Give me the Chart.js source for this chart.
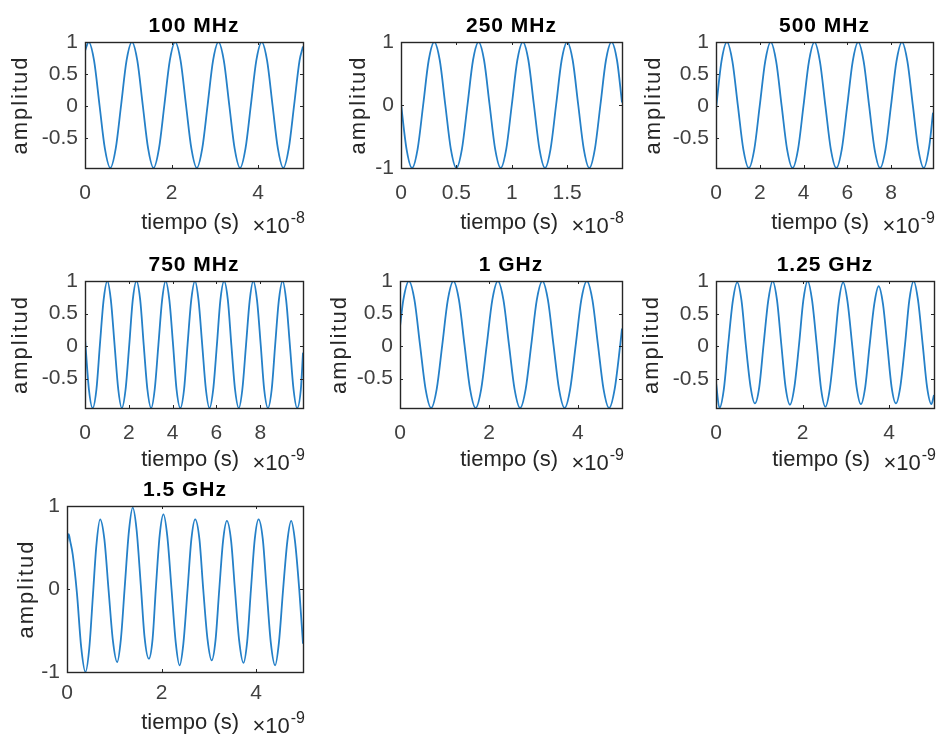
<!DOCTYPE html>
<html>
<head>
<meta charset="utf-8">
<title>Señales muestreadas</title>
<script src="https://cdn.jsdelivr.net/npm/chart.js@4.4.1/dist/chart.umd.min.js"></script>
<style>
  html, body { margin: 0; padding: 0; background: #fff; }
  #fig { position: relative; width: 938px; height: 740px; overflow: hidden; background: #fff; }
  #fig canvas { position: absolute; left: 0; top: 0; }
</style>
</head>
<body>
<div id="fig"></div>
<script>
// ---- Títulos de cada subgráfica ----
const titulos = ['100 MHz', '250 MHz', '500 MHz', '750 MHz', '1 GHz', '1.25 GHz', '1.5 GHz'];

// ---- Marcas de los ejes ----
const xTicks5  = [0, 2, 4];
const xTicks2  = [0, 0.5, 1, 1.5];
const xTicks10 = [0, 2, 4, 6, 8];
const yTicksMedio = [-0.5, 0, 0.5, 1];
const yTicksUno   = [-1, 0, 1];

// ---- 100 MHz (tiempo en unidades de 1e-8 s) ----
const t100 = [0,
  0.085, 0.21, 0.335, 0.46, 0.585, 0.71, 0.835, 0.96,
  1.085, 1.21, 1.335, 1.46, 1.585, 1.71, 1.835, 1.96,
  2.085, 2.21, 2.335, 2.46, 2.585, 2.71, 2.835, 2.96,
  3.085, 3.21, 3.335, 3.46, 3.585, 3.71, 3.835, 3.96,
  4.085, 4.21, 4.335, 4.46, 4.585, 4.71, 4.835, 4.96,
  5.04];
const a100 = [0.86,
  1, 0.71, 0.02, -0.66, -0.96, -0.66, 0.02, 0.71,
  1, 0.71, 0.02, -0.66, -0.96, -0.66, 0.02, 0.71,
  1, 0.71, 0.02, -0.66, -0.96, -0.66, 0.02, 0.71,
  1, 0.71, 0.02, -0.66, -0.96, -0.66, 0.02, 0.71,
  1, 0.71, 0.02, -0.66, -0.96, -0.66, 0.02, 0.71,
  0.93];

// ---- 250 MHz (1e-8 s) ----
const t250 = [
  0, 0.05, 0.1, 0.15, 0.2, 0.25, 0.3, 0.35,
  0.4, 0.45, 0.5, 0.55, 0.6, 0.65, 0.7, 0.75,
  0.8, 0.85, 0.9, 0.95, 1.0, 1.05, 1.1, 1.15,
  1.2, 1.25, 1.3, 1.35, 1.4, 1.45, 1.5, 1.55,
  1.6, 1.65, 1.7, 1.75, 1.8, 1.85, 1.9, 1.95,
  1.995];
const a250 = [
  0.02, -0.7, -1, -0.7, 0, 0.71, 1, 0.71,
  0, -0.7, -1, -0.7, 0, 0.71, 1, 0.71,
  0, -0.7, -1, -0.7, 0, 0.71, 1, 0.71,
  0, -0.7, -1, -0.7, 0, 0.71, 1, 0.71,
  0, -0.7, -1, -0.7, 0, 0.71, 1, 0.71,
  0.04];

// ---- 500 MHz (1e-9 s) ----
const t500 = [
  0, 0.25, 0.5, 0.75, 1.0, 1.25, 1.5, 1.75,
  2.0, 2.25, 2.5, 2.75, 3.0, 3.25, 3.5, 3.75,
  4.0, 4.25, 4.5, 4.75, 5.0, 5.25, 5.5, 5.75,
  6.0, 6.25, 6.5, 6.75, 7.0, 7.25, 7.5, 7.75,
  8.0, 8.25, 8.5, 8.75, 9.0, 9.25, 9.5, 9.75,
  9.92];
const a500 = [
  -0.04, 0.7, 1, 0.7, 0.01, -0.67, -0.96, -0.67,
  0.01, 0.7, 1, 0.7, 0.01, -0.67, -0.96, -0.67,
  0.01, 0.7, 1, 0.7, 0.01, -0.67, -0.96, -0.67,
  0.01, 0.7, 1, 0.7, 0.01, -0.67, -0.96, -0.67,
  0.01, 0.7, 1, 0.7, 0.01, -0.67, -0.96, -0.62,
  -0.1];

// ---- 750 MHz (1e-9 s) ----
const t750 = [0, 0.18,
  0.35, 0.52, 0.68, 0.85, 1.02, 1.18, 1.35, 1.52,
  1.68, 1.85, 2.02, 2.18, 2.35, 2.52, 2.68, 2.85,
  3.02, 3.18, 3.35, 3.52, 3.68, 3.85, 4.02, 4.18,
  4.35, 4.52, 4.68, 4.85, 5.02, 5.18, 5.35, 5.52,
  5.68, 5.85, 6.02, 6.18, 6.35, 6.52, 6.68, 6.85,
  7.02, 7.18, 7.35, 7.52, 7.68, 7.85, 8.02, 8.18,
  8.35, 8.52, 8.68, 8.85, 9.02, 9.18, 9.35, 9.52,
  9.68, 9.85, 9.95];
const a750 = [0.12, -0.67,
  -0.95, -0.67, 0.02, 0.71, 1, 0.71, 0.02, -0.67,
  -0.95, -0.67, 0.02, 0.71, 1, 0.71, 0.02, -0.67,
  -0.95, -0.67, 0.02, 0.71, 1, 0.71, 0.02, -0.67,
  -0.95, -0.67, 0.02, 0.71, 1, 0.71, 0.02, -0.67,
  -0.95, -0.67, 0.02, 0.71, 1, 0.71, 0.02, -0.67,
  -0.95, -0.67, 0.02, 0.71, 1, 0.71, 0.02, -0.67,
  -0.95, -0.67, 0.02, 0.71, 1, 0.71, 0.02, -0.67,
  -0.95, -0.67, -0.1];

// ---- 1 GHz (1e-9 s) ----
const t1000 = [0,
  0.075, 0.2, 0.325, 0.45, 0.575, 0.7, 0.825, 0.95,
  1.075, 1.2, 1.325, 1.45, 1.575, 1.7, 1.825, 1.95,
  2.075, 2.2, 2.325, 2.45, 2.575, 2.7, 2.825, 2.95,
  3.075, 3.2, 3.325, 3.45, 3.575, 3.7, 3.825, 3.95,
  4.075, 4.2, 4.325, 4.45, 4.575, 4.7, 4.825, 4.95,
  4.99];
const a1000 = [0.3,
  0.71, 1, 0.71, 0.02, -0.66, -0.95, -0.66, 0.02,
  0.71, 1, 0.71, 0.02, -0.66, -0.95, -0.66, 0.02,
  0.71, 1, 0.71, 0.02, -0.66, -0.95, -0.66, 0.02,
  0.71, 1, 0.71, 0.02, -0.66, -0.95, -0.66, 0.02,
  0.71, 1, 0.71, 0.02, -0.66, -0.95, -0.66, 0.02,
  0.27];

// ---- 1.25 GHz (1e-9 s) ----
const t1250 = [0,
  0.08, 0.18, 0.28, 0.39, 0.49, 0.59, 0.69, 0.80,
  0.90, 1.00, 1.10, 1.21, 1.31, 1.41, 1.51, 1.61,
  1.71, 1.81, 1.92, 2.02, 2.12, 2.22, 2.33, 2.43,
  2.53, 2.63, 2.74, 2.84, 2.94, 3.04, 3.15, 3.25,
  3.35, 3.45, 3.55, 3.66, 3.76, 3.86, 3.96, 4.06,
  4.16, 4.26, 4.37, 4.47, 4.57, 4.67, 4.78, 4.88,
  4.98, 5.04];
const a1250 = [-0.55,
  -0.94, -0.66, 0.02, 0.70, 0.98, 0.70, 0.02, -0.62,
  -0.87, -0.62, 0.03, 0.71, 1.00, 0.71, 0.03, -0.63,
  -0.89, -0.63, 0.03, 0.71, 1.00, 0.71, 0.02, -0.65,
  -0.92, -0.65, 0.01, 0.69, 0.98, 0.69, 0.01, -0.62,
  -0.88, -0.62, 0.01, 0.65, 0.92, 0.65, 0.02, -0.62,
  -0.87, -0.62, 0.03, 0.71, 1.00, 0.71, 0.02, -0.62,
  -0.88, -0.74];

// ---- 1.5 GHz (1e-9 s) ----
const t1500 = [
  0, 0.035, 0.07, 0.12, 0.21, 0.30, 0.39, 0.47,
  0.55, 0.62, 0.70, 0.79, 0.88, 0.97, 1.06, 1.14,
  1.22, 1.31, 1.39, 1.47, 1.56, 1.64, 1.73, 1.81,
  1.88, 1.96, 2.04, 2.12, 2.21, 2.30, 2.38, 2.46,
  2.55, 2.63, 2.71, 2.80, 2.88, 2.97, 3.06, 3.14,
  3.22, 3.30, 3.38, 3.47, 3.55, 3.64, 3.73, 3.81,
  3.89, 3.97, 4.05, 4.14, 4.22, 4.31, 4.40, 4.48,
  4.57, 4.66, 4.74, 4.82, 4.91, 4.99];
const a1500 = [
  0.55, 0.66, 0.57, 0.42, -0.05, -0.70, -1.00, -0.72,
  -0.06, 0.52, 0.84, 0.60, -0.02, -0.62, -0.88, -0.60,
  0.02, 0.70, 0.98, 0.72, 0.05, -0.58, -0.84, -0.60,
  0.02, 0.65, 0.90, 0.64, 0.00, -0.65, -0.92, -0.66,
  0.00, 0.60, 0.84, 0.60, 0.00, -0.60, -0.86, -0.62,
  0.00, 0.58, 0.82, 0.58, 0.00, -0.62, -0.89, -0.63,
  0.00, 0.60, 0.84, 0.60, 0.00, -0.65, -0.92, -0.65,
  0.00, 0.58, 0.82, 0.58, 0.00, -0.66];

// ---- Disposición de las subgráficas (caja del eje en px: izq, arriba, der, abajo) ----
const FONT = '"Liberation Sans", Arial, Helvetica, sans-serif';
const W = 938, H = 740;
const YW = 60, XH = 40;

const paneles = [
  { title: titulos[0], t: t100,  a: a100,  xMax: 5.04,  xTicks: xTicks5,  yMin: -0.96, yTicks: yTicksMedio, exp: '-8', box: [85, 42, 303, 168],  yLab: 64, xTickPad: 13, xLab: 55 },
  { title: titulos[1], t: t250,  a: a250,  xMax: 1.995, xTicks: xTicks2,  yMin: -1,    yTicks: yTicksUno,   exp: '-8', box: [401, 42, 622, 168], yLab: 42, xTickPad: 13, xLab: 55 },
  { title: titulos[2], t: t500,  a: a500,  xMax: 9.92,  xTicks: xTicks10, yMin: -0.96, yTicks: yTicksMedio, exp: '-9', box: [716, 42, 933, 168], yLab: 62, xTickPad: 13, xLab: 55 },
  { title: titulos[3], t: t750,  a: a750,  xMax: 9.95,  xTicks: xTicks10, yMin: -0.95, yTicks: yTicksMedio, exp: '-9', box: [85, 281, 303, 408], yLab: 64, xTickPad: 13, xLab: 52 },
  { title: titulos[4], t: t1000, a: a1000, xMax: 4.99,  xTicks: xTicks5,  yMin: -0.95, yTicks: yTicksMedio, exp: '-9', box: [400, 281, 622, 408], yLab: 60, xTickPad: 13, xLab: 52 },
  { title: titulos[5], t: t1250, a: a1250, xMax: 5.04,  xTicks: xTicks5,  yMin: -0.94, yTicks: yTicksMedio, exp: '-9', box: [716, 281, 934, 408], yLab: 64, xTickPad: 13, xLab: 52 },
  { title: titulos[6], t: t1500, a: a1500, xMax: 4.99,  xTicks: xTicks5,  yMin: -1,    yTicks: yTicksUno,   exp: '-9', box: [67, 506, 303, 672],  yLab: 40, xTickPad: 9,  xLab: 51 }
];

// Caja, marcas interiores, título y etiquetas al estilo de una figura de MATLAB
const marcoEjes = {
  id: 'marcoEjes',
  afterDraw(chart, args, o) {
    const { ctx, chartArea: a, scales: { x, y } } = chart;
    ctx.save();
    ctx.strokeStyle = '#262626';
    ctx.lineWidth = 1;
    ctx.beginPath();
    x.ticks.forEach(tk => {
      const px = Math.round(x.getPixelForValue(tk.value)) + 0.5;
      ctx.moveTo(px, a.bottom); ctx.lineTo(px, a.bottom - 3);
      ctx.moveTo(px, a.top); ctx.lineTo(px, a.top + 3);
    });
    y.ticks.forEach(tk => {
      const py = Math.round(y.getPixelForValue(tk.value)) + 0.5;
      ctx.moveTo(a.left, py); ctx.lineTo(a.left + 3, py);
      ctx.moveTo(a.right, py); ctx.lineTo(a.right - 3, py);
    });
    ctx.stroke();
    ctx.lineWidth = 1.4;
    ctx.strokeRect(a.left + 0.5, a.top + 0.5, a.right - a.left, a.bottom - a.top);

    // título
    ctx.fillStyle = '#000';
    ctx.font = 'bold 21px ' + FONT;
    ctx.letterSpacing = '1px';
    ctx.textAlign = 'center';
    ctx.textBaseline = 'alphabetic';
    ctx.fillText(o.title, (a.left + a.right) / 2, a.top - 10);

    // etiqueta del eje y
    ctx.fillStyle = '#262626';
    ctx.font = '22px ' + FONT;
    ctx.letterSpacing = '2px';
    ctx.save();
    ctx.translate(a.left - o.yLab, (a.top + a.bottom) / 2);
    ctx.rotate(-Math.PI / 2);
    ctx.textBaseline = 'middle';
    ctx.fillText('amplitud', 0, 0);
    ctx.restore();

    // etiqueta del eje x
    ctx.letterSpacing = '0px';
    ctx.textAlign = 'right';
    ctx.textBaseline = 'middle';
    ctx.fillText('tiempo (s)', a.right - 64, a.bottom + o.xLab);

    // multiplicador del eje x
    ctx.textBaseline = 'alphabetic';
    const base = a.bottom + o.xLab + 10;
    ctx.font = '16px ' + FONT;
    const wExp = ctx.measureText(o.exp).width;
    ctx.fillText(o.exp, a.right + 2, base - 10);
    ctx.font = '22px ' + FONT;
    ctx.fillText('\u00d710', a.right + 1 - wExp, base);
    ctx.restore();
  }
};

const fig = document.getElementById('fig');

paneles.forEach(p => {
  const cv = document.createElement('canvas');
  cv.width = W; cv.height = H;
  fig.appendChild(cv);
  const [l, t, r, b] = p.box;
  new Chart(cv, {
    type: 'line',
    data: {
      datasets: [{
        data: p.t.map((v, i) => ({ x: v, y: p.a[i] })),
        borderColor: '#2580c8',
        borderWidth: 1.8,
        pointRadius: 0,
        fill: false,
        cubicInterpolationMode: 'monotone'
      }]
    },
    options: {
      responsive: false,
      animation: false,
      events: [],
      layout: { padding: { left: l - YW, top: t, right: W - r, bottom: H - b - XH } },
      plugins: {
        legend: { display: false },
        tooltip: { enabled: false },
        marcoEjes: { title: p.title, exp: p.exp, yLab: p.yLab, xLab: p.xLab }
      },
      scales: {
        x: {
          type: 'linear', min: 0, max: p.xMax,
          afterBuildTicks: s => { s.ticks = p.xTicks.map(v => ({ value: v })); },
          afterFit: s => { s.height = XH; },
          grid: { display: false, drawTicks: false },
          border: { display: false },
          ticks: { autoSkip: false, maxRotation: 0, padding: p.xTickPad, color: '#404040',
                   font: { family: FONT, size: 21 }, callback: v => String(v) }
        },
        y: {
          type: 'linear', min: p.yMin, max: 1,
          afterBuildTicks: s => { s.ticks = p.yTicks.map(v => ({ value: v })); },
          afterFit: s => { s.width = YW; },
          grid: { display: false, drawTicks: false },
          border: { display: false },
          ticks: { autoSkip: false, padding: 7, color: '#404040',
                   font: { family: FONT, size: 21 }, callback: v => String(v) }
        }
      }
    },
    plugins: [marcoEjes]
  });
});
</script>
</body>
</html>
